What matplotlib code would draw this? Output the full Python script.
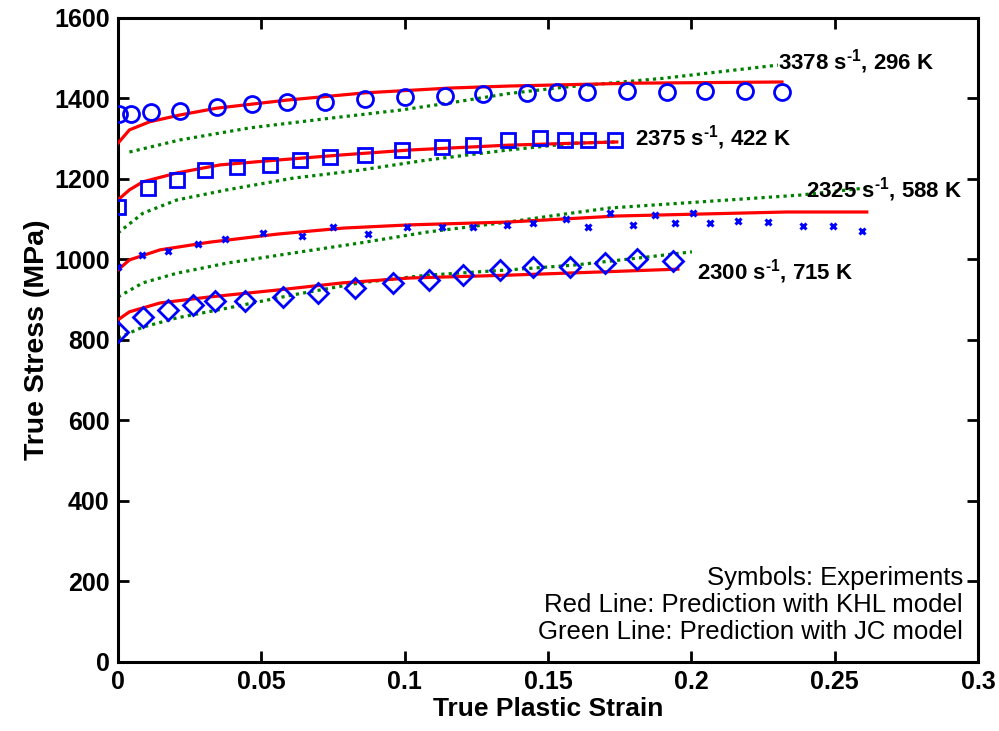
import matplotlib
matplotlib.use('Agg')
import matplotlib.pyplot as plt

plt.rcParams['font.family'] = ['Liberation Sans', 'DejaVu Sans']
plt.rcParams['mathtext.fontset'] = 'custom'
plt.rcParams['mathtext.rm'] = 'Liberation Sans:bold'
plt.rcParams['mathtext.it'] = 'Liberation Sans:bold'
plt.rcParams['mathtext.bf'] = 'Liberation Sans:bold'

# experiments (symbols)
exp_296_x = [0.0003, 0.0045, 0.0115, 0.0216, 0.0345, 0.0467, 0.059, 0.0722, 0.0862, 0.1001,
             0.114, 0.1273, 0.1427, 0.1531, 0.1636, 0.1775, 0.1915, 0.2047, 0.2187, 0.2316]
exp_296_y = [1362, 1362, 1366, 1370, 1379, 1387, 1391, 1391, 1399, 1404,
             1406, 1411, 1414, 1416, 1416, 1419, 1416, 1419, 1419, 1416]

exp_422_x = [0.0, 0.0105, 0.0206, 0.0303, 0.0415, 0.053, 0.0635, 0.074, 0.0862, 0.0991,
             0.113, 0.1238, 0.136, 0.1472, 0.1559, 0.1639, 0.1734]
exp_422_y = [1130, 1178, 1197, 1222, 1230, 1235, 1247, 1255, 1260, 1272,
             1280, 1284, 1297, 1302, 1297, 1297, 1297]

exp_588_x = [0.0, 0.0084, 0.0174, 0.0279, 0.0373, 0.0506, 0.0642, 0.075, 0.0872, 0.1008,
             0.113, 0.1238, 0.1357, 0.1448, 0.1563, 0.1639, 0.1716, 0.1796, 0.1873, 0.1943,
             0.2006, 0.2065, 0.2163, 0.2267, 0.2389, 0.2494, 0.2595]
exp_588_y = [981, 1011, 1021, 1039, 1051, 1066, 1058, 1081, 1063, 1081,
             1081, 1081, 1086, 1091, 1101, 1081, 1116, 1086, 1111, 1091,
             1116, 1091, 1096, 1093, 1083, 1083, 1071]

exp_715_x = [0.0, 0.0087, 0.0174, 0.0262, 0.0338, 0.0443, 0.0575, 0.0698, 0.0827, 0.0959,
             0.1085, 0.1203, 0.1332, 0.1448, 0.1577, 0.1699, 0.1811, 0.1936]
exp_715_y = [820, 857, 875, 887, 897, 897, 907, 917, 929, 942,
             949, 961, 974, 981, 981, 991, 1001, 996]

# KHL model (red)
khl_296_x = [0.0, 0.004, 0.011, 0.0216, 0.0345, 0.059, 0.0862, 0.1160, 0.1368, 0.1800, 0.2316]
khl_296_y = [1289, 1322, 1342, 1359, 1376, 1396, 1414, 1426, 1431, 1438, 1441]
khl_422_x = [0.0, 0.004, 0.0087, 0.0206, 0.0356, 0.0555, 0.0785, 0.1018, 0.136, 0.1740]
khl_422_y = [1148, 1173, 1193, 1215, 1235, 1247, 1260, 1272, 1284, 1292]
khl_588_x = [0.0, 0.004, 0.0147, 0.032, 0.0555, 0.0785, 0.1018, 0.136, 0.1740, 0.2333, 0.2612]
khl_588_y = [974, 999, 1024, 1043, 1063, 1078, 1086, 1093, 1108, 1118, 1118]
khl_715_x = [0.0, 0.004, 0.0147, 0.032, 0.0555, 0.0785, 0.1018, 0.136, 0.1681, 0.1953]
khl_715_y = [850, 870, 892, 907, 924, 942, 954, 961, 969, 976]

# JC model (green)
jc_296_x = [0.004, 0.0216, 0.0460, 0.0740, 0.0983, 0.1158, 0.136, 0.1555, 0.1900, 0.2302]
jc_296_y = [1267, 1297, 1327, 1351, 1371, 1389, 1412, 1428, 1450, 1483]
jc_422_x = [0.0, 0.0087, 0.0206, 0.0380, 0.0610, 0.0844, 0.1077, 0.136, 0.1471, 0.1590, 0.1734]
jc_422_y = [1066, 1115, 1148, 1173, 1202, 1222, 1247, 1272, 1280, 1289, 1292]
jc_588_x = [0.0, 0.0087, 0.0206, 0.0380, 0.0610, 0.0844, 0.1077, 0.136, 0.1590, 0.1716, 0.2030, 0.2379, 0.2612]
jc_588_y = [907, 942, 966, 991, 1016, 1041, 1068, 1093, 1116, 1128, 1143, 1160, 1178]
jc_715_x = [0.0, 0.0087, 0.0206, 0.0380, 0.0610, 0.0844, 0.1077, 0.136, 0.1590, 0.1820, 0.2002]
jc_715_y = [805, 832, 855, 879, 912, 942, 961, 974, 986, 1004, 1019]

labels = [r'3378 s$^{\text{-1}}$, 296 K', r'2375 s$^{\text{-1}}$, 422 K',
          r'2325 s$^{\text{-1}}$, 588 K', r'2300 s$^{\text{-1}}$, 715 K']
label_x = [0.2302, 0.1803, 0.2400, 0.2020]
label_y = [1491, 1304, 1173, 969]

fig = plt.figure(figsize=(9.99, 7.31), dpi=100)
ax = fig.add_axes([0.1181, 0.0944, 0.979 - 0.1181, 0.9754 - 0.0944])

for x, y in [(khl_296_x, khl_296_y), (khl_422_x, khl_422_y), (khl_588_x, khl_588_y), (khl_715_x, khl_715_y)]:
    ax.plot(x, y, color='red', lw=2.3, zorder=3)
for x, y in [(jc_296_x, jc_296_y), (jc_422_x, jc_422_y), (jc_588_x, jc_588_y), (jc_715_x, jc_715_y)]:
    ax.plot(x, y, color=(0, 0.5, 0), lw=2.3, ls=(0, (1, 1.3)), zorder=2)

ax.plot(exp_296_x, exp_296_y, 'o', mfc='none', mec='blue', ms=11.5, mew=2, zorder=4)
ax.plot(exp_422_x, exp_422_y, 's', mfc='none', mec='blue', ms=10.5, mew=2, zorder=4)
ax.plot(exp_588_x, exp_588_y, 'x', color='blue', ms=5, mew=2.2, zorder=4)
ax.plot(exp_715_x, exp_715_y, 'D', mfc='none', mec='blue', ms=10, mew=2, zorder=4)

for t, x, y in zip(labels, label_x, label_y):
    ax.text(x, y, t, fontsize=16, fontweight='bold', va='center', ha='left', zorder=5)

ax.text(0.2948, 238, 'Symbols: Experiments\nRed Line: Prediction with KHL model\nGreen Line: Prediction with JC model',
        ha='right', va='top', fontsize=18.5, linespacing=1.15, multialignment='right')

ax.set_xlim(0, 0.3)
ax.set_ylim(0, 1600)
ax.set_xticks([0, 0.05, 0.1, 0.15, 0.2, 0.25, 0.3])
ax.set_xticklabels(['0', '0.05', '0.1', '0.15', '0.2', '0.25', '0.3'])
ax.set_yticks(range(0, 1601, 200))
ax.tick_params(direction='in', length=8, width=2, top=True, right=True, labelsize=18, pad=6)
for lab in ax.get_xticklabels() + ax.get_yticklabels():
    lab.set_fontweight('bold')
for s in ax.spines.values():
    s.set_linewidth(2.2)
ax.set_xlabel('True Plastic Strain', fontsize=19, fontweight='bold', labelpad=2)
ax.set_ylabel('True Stress (MPa)', fontsize=20.5, fontweight='bold', labelpad=3)

fig.savefig('out.png', dpi=100)
